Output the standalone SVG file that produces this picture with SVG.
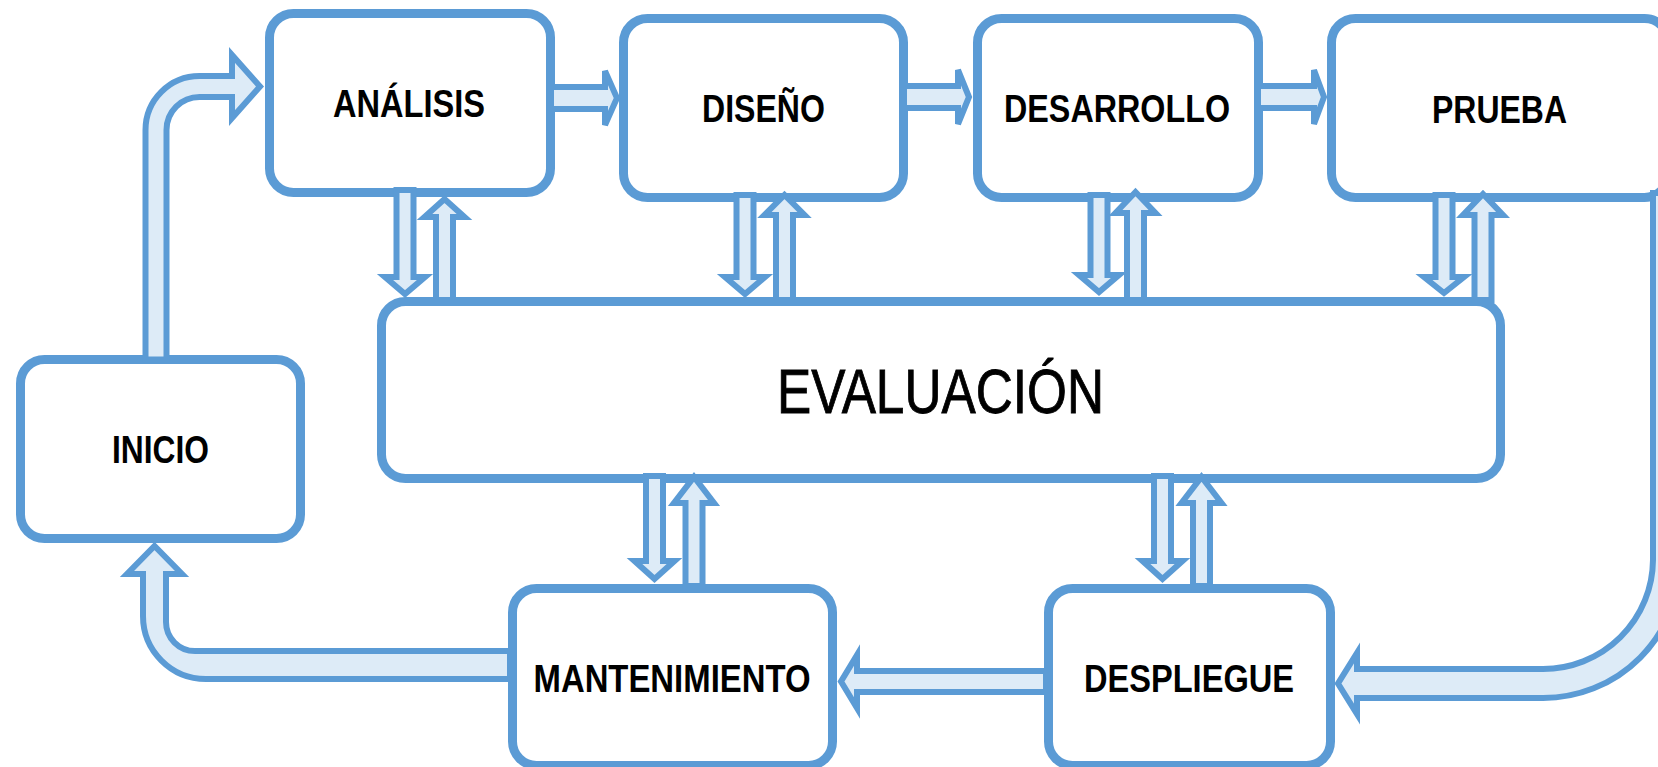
<svg xmlns="http://www.w3.org/2000/svg" width="1658" height="767" viewBox="0 0 1658 767">
<style>
.box{fill:#FFFFFF;stroke:#5B9BD5;stroke-width:9}
.arr{fill:#DDEBF7;stroke:#5B9BD5;stroke-width:6;stroke-linejoin:miter}
.lbl{font-family:"Liberation Sans",Arial,sans-serif;font-weight:bold;font-size:38px;fill:#000;text-anchor:middle}
.big{font-family:"Liberation Sans",Arial,sans-serif;font-size:63px;fill:#000;stroke:#000;stroke-width:0.9;text-anchor:middle}
</style>
<rect x="0" y="0" width="1658" height="767" fill="#FFFFFF"/>
<g id="analisis"><rect class="box" x="269.5" y="13.5" width="281" height="179" rx="24"/><text class="lbl" x="409" y="117" textLength="152" lengthAdjust="spacingAndGlyphs">ANÁLISIS</text></g>
<g id="diseno"><rect class="box" x="623.5" y="18.5" width="280" height="179" rx="24"/><text class="lbl" x="763.5" y="122" textLength="123" lengthAdjust="spacingAndGlyphs">DISEÑO</text></g>
<g id="desarrollo"><rect class="box" x="977.5" y="18.5" width="281" height="179" rx="24"/><text class="lbl" x="1117" y="122" textLength="226" lengthAdjust="spacingAndGlyphs">DESARROLLO</text></g>
<g id="prueba"><rect class="box" x="1331.5" y="18.5" width="337" height="179" rx="24"/><text class="lbl" x="1499.5" y="123" textLength="135" lengthAdjust="spacingAndGlyphs">PRUEBA</text></g>
<g id="evaluacion"><rect class="box" x="381.5" y="301.5" width="1119" height="177" rx="24"/><text class="big" x="940.5" y="413" textLength="327" lengthAdjust="spacingAndGlyphs">EVALUACIÓN</text></g>
<g id="inicio"><rect class="box" x="20.5" y="359.5" width="280" height="179" rx="24"/><text class="lbl" x="160.5" y="463" textLength="97" lengthAdjust="spacingAndGlyphs">INICIO</text></g>
<g id="mantenimiento"><rect class="box" x="512.5" y="588.5" width="320" height="177" rx="24"/><text class="lbl" x="672" y="692" textLength="277" lengthAdjust="spacingAndGlyphs">MANTENIMIENTO</text></g>
<g id="despliegue"><rect class="box" x="1048.5" y="588.5" width="282" height="177" rx="24"/><text class="lbl" x="1189" y="692" textLength="210" lengthAdjust="spacingAndGlyphs">DESPLIEGUE</text></g>
<g id="connectors">
<path class="arr" d="M145.5 359.5 L145.5 130 A54 54 0 0 1 199.5 76 L232 76 L232 55 L260 86.5 L232 118 L232 97 L199.5 97 A33 33 0 0 0 166.5 130 L166.5 359.5 Z"/>
<path class="arr" d="M551 87 L605 87 L605 71 L617 98 L605 125 L605 109 L551 109 Z"/>
<path class="arr" d="M904 86 L958 86 L958 70 L969 97 L958 124 L958 108 L904 108 Z"/>
<path class="arr" d="M1258 86 L1314 86 L1314 70 L1324 97 L1314 124 L1314 108 L1258 108 Z"/>
<path class="arr" d="M1653 193 L1653 560 A110 110 0 0 1 1543 669 L1357 669 L1357 653 L1338 683.5 L1357 714 L1357 698 L1543 698 A137 137 0 0 0 1680 560 L1680 193 Z"/>
<path class="arr" d="M1046 671 L857 671 L857 655 L841 681.5 L857 708 L857 692 L1046 692 Z"/>
<path class="arr" d="M510 651 L195 651 A29 29 0 0 1 166 622 L166 574 L182 574 L154.5 546 L127 574 L143 574 L143 616 A63 63 0 0 0 206 679 L510 679 Z"/>
<path class="arr" d="M396.5 190 L396.5 277 L385 277 L405 294 L425 277 L413.5 277 L413.5 190 Z"/>
<path class="arr" d="M436 300 L436 217 L424.5 217 L444.5 199 L464.5 217 L453 217 L453 300 Z"/>
<path class="arr" d="M736.5 195 L736.5 277 L725 277 L745 294 L765 277 L753.5 277 L753.5 195 Z"/>
<path class="arr" d="M776 300 L776 215 L764.5 215 L784.5 195 L804.5 215 L793 215 L793 300 Z"/>
<path class="arr" d="M1090.5 195 L1090.5 275 L1079 275 L1099 292 L1119 275 L1107.5 275 L1107.5 195 Z"/>
<path class="arr" d="M1127 300 L1127 213 L1115.5 213 L1135.5 192 L1155.5 213 L1144 213 L1144 300 Z"/>
<path class="arr" d="M1435.5 195 L1435.5 277 L1424 277 L1444 293 L1464 277 L1452.5 277 L1452.5 195 Z"/>
<path class="arr" d="M1474.5 300 L1474.5 215 L1463 215 L1483 194 L1503 215 L1491.5 215 L1491.5 300 Z"/>
<path class="arr" d="M646 476 L646 561 L634.5 561 L654.5 579 L674.5 561 L663 561 L663 476 Z"/>
<path class="arr" d="M685.5 586 L685.5 503 L674 503 L694 477 L714 503 L702.5 503 L702.5 586 Z"/>
<path class="arr" d="M1154 476 L1154 561 L1142.5 561 L1162.5 579 L1182.5 561 L1171 561 L1171 476 Z"/>
<path class="arr" d="M1193 586 L1193 503 L1181.5 503 L1201.5 477 L1221.5 503 L1210 503 L1210 586 Z"/>
</g>
</svg>
